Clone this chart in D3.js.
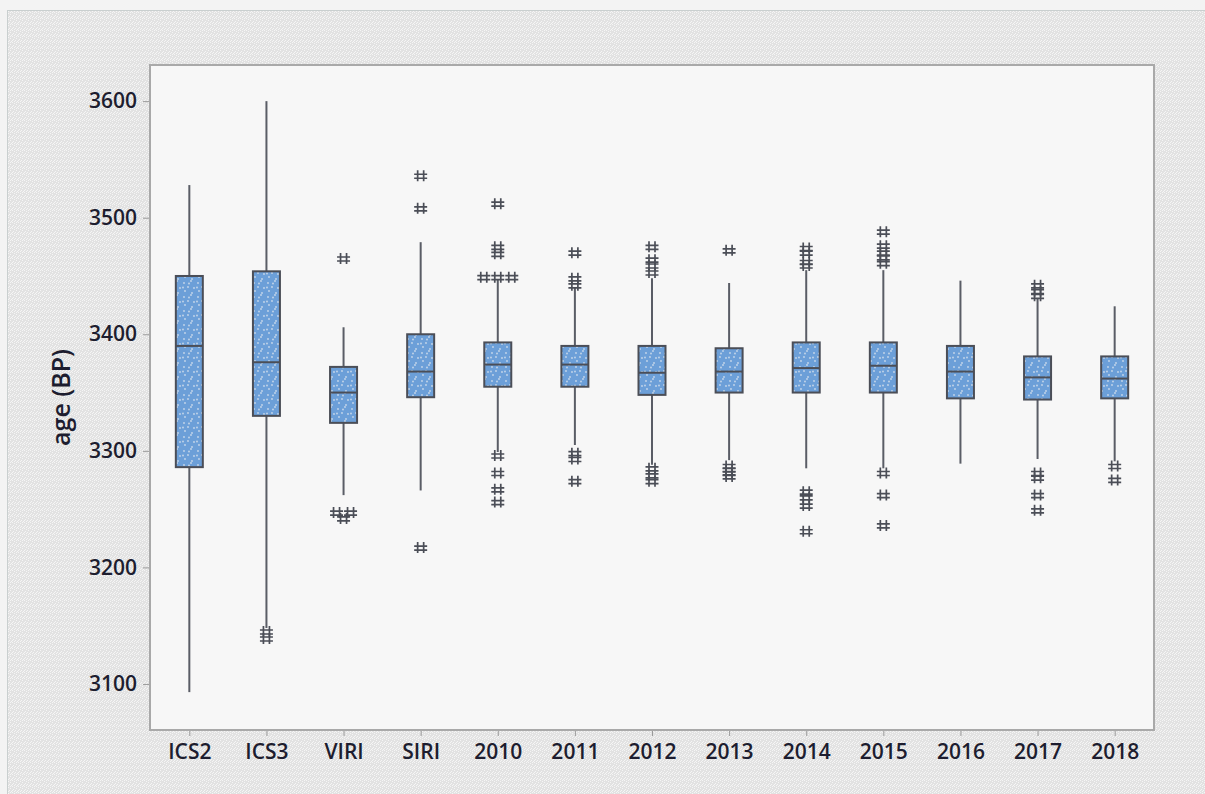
<!DOCTYPE html>
<html>
<head>
<meta charset="utf-8">
<script src="https://cdn.jsdelivr.net/npm/d3@7/dist/d3.min.js"></script>
<style>
  html, body { margin: 0; padding: 0; background: #f3f3f3; }
  svg { display: block; }
</style>
</head>
<body>
<svg id="chart" width="1205" height="794"></svg>
<script>
// Age (BP) distributions per calibration / year
const categories = ["ICS2", "ICS3", "VIRI", "SIRI", "2010", "2011", "2012", "2013", "2014", "2015", "2016", "2017", "2018"];
const whiskerHigh = [3528, 3600, 3406, 3479, 3447, 3440, 3448, 3444, 3455, 3455, 3446, 3431, 3424];
const q3Values    = [3450, 3454, 3372, 3400, 3393, 3390, 3390, 3388, 3393, 3393, 3390, 3381, 3381];
const medians     = [3390, 3376, 3350, 3368, 3374, 3374, 3367, 3368, 3371, 3373, 3368, 3363, 3362];
const q1Values    = [3286, 3330, 3324, 3346, 3355, 3355, 3348, 3350, 3350, 3350, 3345, 3344, 3345];
const whiskerLow  = [3093, 3148, 3262, 3266, 3299, 3305, 3288, 3292, 3285, 3285, 3289, 3293, 3291];
const outliers = [
  [],
  [3145, 3139],
  [3465, 3242, 3247, 3247],
  [3536, 3508, 3217],
  [3512, 3475, 3469, 3449, 3449, 3449, 3296, 3281, 3267, 3256],
  [3470, 3448, 3442, 3298, 3293, 3274],
  [3475, 3464, 3459, 3453, 3285, 3279, 3274],
  [3472, 3287, 3284, 3281, 3278],
  [3474, 3470, 3462, 3459, 3265, 3260, 3253, 3231],
  [3488, 3476, 3470, 3466, 3461, 3281, 3262, 3236],
  [],
  [3442, 3437, 3433, 3281, 3277, 3262, 3249],
  [3287, 3275]
];
const yTicks = [3100, 3200, 3300, 3400, 3500, 3600];
const yTitle = "age (BP)";

const svg = d3.select("#chart");
const W = 1205, H = 794;
const plot = { left: 150, top: 65, right: 1154, bottom: 730 };

const defs = svg.append("defs");

// Fine dotted texture of the outer panel
const panelPat = defs.append("pattern")
  .attr("id", "panelTex").attr("patternUnits", "userSpaceOnUse")
  .attr("width", 6).attr("height", 6);
panelPat.append("rect").attr("width", 6).attr("height", 6).attr("fill", "#e2e2e2");
[[0,0],[2,1],[4,2],[1,3],[3,4],[5,5],[0,4],[4,0],[2,5]].forEach(([x, y]) => {
  panelPat.append("rect").attr("x", x).attr("y", y).attr("width", 1).attr("height", 1)
    .attr("fill", "#f5f5f5");
});

// Speckled fill of the boxes
const boxPat = defs.append("pattern")
  .attr("id", "boxFill").attr("patternUnits", "userSpaceOnUse")
  .attr("width", 14).attr("height", 14);
boxPat.append("rect").attr("width", 14).attr("height", 14).attr("fill", "#6c9fd8");
[[2,3],[9,1],[6,7],[12,8],[3,11],[10,13],[7,3.5],[1,7.5]].forEach(([x, y]) => {
  boxPat.append("circle").attr("cx", x).attr("cy", y).attr("r", 0.9).attr("fill", "#c6d7ea");
});

// Outer panel
svg.append("rect").attr("x", 0).attr("y", 0).attr("width", W).attr("height", H).attr("fill", "#f3f3f3");
svg.append("rect").attr("x", 7.5).attr("y", 10.5).attr("width", W - 7).attr("height", H - 10)
  .attr("fill", "url(#panelTex)").attr("stroke", "#c9cfcf").attr("stroke-width", 1);

// Plot area
svg.append("rect")
  .attr("x", plot.left).attr("y", plot.top)
  .attr("width", plot.right - plot.left).attr("height", plot.bottom - plot.top)
  .attr("fill", "#f7f7f7").attr("stroke", "#a9a9a9").attr("stroke-width", 2);

const x = d3.scalePoint().domain(categories).range([plot.left, plot.right]).padding(0.51);
const y = d3.scaleLinear().domain([3060.5, 3631]).range([plot.bottom, plot.top]);

const textColor = "#1d1d2f";
const fontFam = "'Open Sans', 'DejaVu Sans', sans-serif";

// Y axis
const yAxis = svg.append("g").attr("transform", `translate(${plot.left - 1},0)`)
  .call(d3.axisLeft(y).tickValues(yTicks).tickSize(6).tickPadding(6).tickFormat(d3.format("d")));
yAxis.select(".domain").remove();
yAxis.selectAll(".tick line").attr("stroke", "#9a9a9a");
yAxis.selectAll(".tick text").attr("fill", textColor)
  .style("font-family", fontFam).style("font-size", "21px").style("font-weight", 600);

// X axis
const xAxis = svg.append("g").attr("transform", `translate(0,${plot.bottom + 1})`)
  .call(d3.axisBottom(x).tickSize(5).tickPadding(8));
xAxis.select(".domain").remove();
xAxis.selectAll(".tick line").attr("stroke", "#9a9a9a");
xAxis.selectAll(".tick text").attr("fill", textColor)
  .style("font-family", fontFam).style("font-size", "21px").style("font-weight", 600);

// Y title
svg.append("text")
  .attr("transform", `translate(70,${(plot.top + plot.bottom) / 2}) rotate(-90)`)
  .attr("text-anchor", "middle")
  .attr("fill", textColor)
  .style("font-family", fontFam).style("font-size", "25px").style("font-weight", 600)
  .text(yTitle);

const boxW = 27;
const stroke = "#4b4e57";
const g = svg.append("g");

categories.forEach((cat, i) => {
  const cx = x(cat);
  // whiskers
  g.append("line").attr("x1", cx).attr("x2", cx)
    .attr("y1", y(whiskerHigh[i])).attr("y2", y(q3Values[i]))
    .attr("stroke", "#5a5d66").attr("stroke-width", 2);
  g.append("line").attr("x1", cx).attr("x2", cx)
    .attr("y1", y(q1Values[i])).attr("y2", y(whiskerLow[i]))
    .attr("stroke", "#5a5d66").attr("stroke-width", 2);
  // box
  g.append("rect")
    .attr("x", cx - boxW / 2).attr("y", y(q3Values[i]))
    .attr("width", boxW).attr("height", y(q1Values[i]) - y(q3Values[i]))
    .attr("fill", "url(#boxFill)").attr("stroke", stroke).attr("stroke-width", 2);
  // median
  g.append("line").attr("x1", cx - boxW / 2).attr("x2", cx + boxW / 2)
    .attr("y1", y(medians[i])).attr("y2", y(medians[i]))
    .attr("stroke", stroke).attr("stroke-width", 2);

  // outliers: tied values are spread side by side
  const counts = d3.rollup(outliers[i], v => v.length, d => d);
  const seen = new Map();
  const spacing = 14;
  outliers[i].forEach(v => {
    const n = counts.get(v);
    const k = seen.get(v) || 0;
    seen.set(v, k + 1);
    const dx = (k - (n - 1) / 2) * spacing;
    g.append("path")
      .attr("transform", `translate(${cx + dx},${y(v)})`)
      .attr("d", "M-3,-5.5V5.5M3,-5.5V5.5M-6.5,-1.5H6.5M-6.5,2.5H6.5")
      .attr("fill", "none").attr("stroke", stroke).attr("stroke-width", 1.7);
  });
});
</script>
</body>
</html>
